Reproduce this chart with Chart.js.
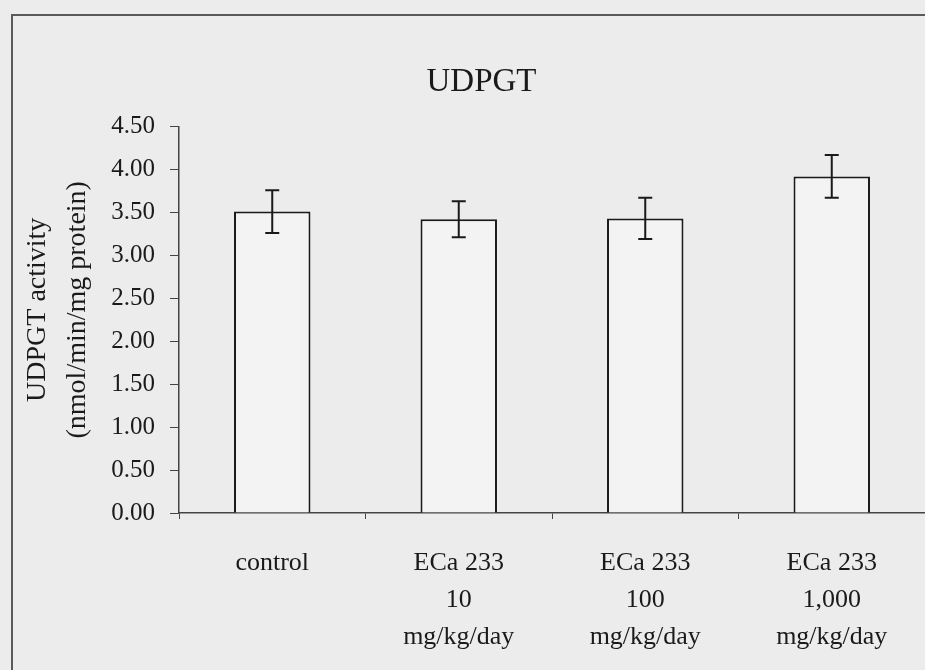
<!DOCTYPE html>
<html>
<head>
<meta charset="utf-8">
<script src="https://cdn.jsdelivr.net/npm/chart.js@4/dist/chart.umd.min.js"></script>
<style>
  html, body { margin: 0; padding: 0; width: 925px; height: 670px; overflow: hidden; background: #ececec; }
  #frame { position: absolute; left: 11px; top: 14px; width: 1000px; height: 800px; border: 2px solid #5a5a5a; box-sizing: border-box; }
  #wrap { position: absolute; left: 0; top: 0; width: 925px; height: 670px; }
</style>
</head>
<body>
<div id="frame"></div>
<div id="wrap"><canvas id="c" width="925" height="670"></canvas></div>
<script>
const categories = [
  ["control"],
  ["ECa 233", "10", "mg/kg/day"],
  ["ECa 233", "100", "mg/kg/day"],
  ["ECa 233", "1,000", "mg/kg/day"]
];
const means = [3.51, 3.42, 3.43, 3.92];
const errors = [0.25, 0.21, 0.24, 0.25];
const chartTitle = "UDPGT";
const yTitleLines = ["UDPGT activity", "(nmol/min/mg protein)"];
const yMin = 0, yMax = 4.5, yStep = 0.5;

const FONT = "'Liberation Serif', 'Times New Roman', serif";

const errorBarPlugin = {
  id: 'errorBars',
  afterDatasetsDraw(chart) {
    const ctx = chart.ctx;
    const meta = chart.getDatasetMeta(0);
    const y = chart.scales.y;
    ctx.save();
    ctx.strokeStyle = '#1a1a1a';
    ctx.lineWidth = 2;
    meta.data.forEach((bar, i) => {
      const x = bar.x;
      const top = y.getPixelForValue(means[i] + errors[i]);
      const bot = y.getPixelForValue(means[i] - errors[i]);
      ctx.beginPath();
      ctx.moveTo(x, top); ctx.lineTo(x, bot);
      ctx.moveTo(x - 7, top); ctx.lineTo(x + 7, top);
      ctx.moveTo(x - 7, bot); ctx.lineTo(x + 7, bot);
      ctx.stroke();
    });
    ctx.restore();
  }
};

const yTitlePlugin = {
  id: 'yTitle',
  afterDraw(chart) {
    const ctx = chart.ctx;
    const area = chart.chartArea;
    const cy = (area.top + area.bottom) / 2 - 10;
    const baselines = [45, 85];
    ctx.save();
    ctx.fillStyle = '#1a1a1a';
    ctx.font = "28px " + FONT;
    ctx.textAlign = 'center';
    ctx.textBaseline = 'alphabetic';
    yTitleLines.forEach((line, i) => {
      ctx.save();
      ctx.translate(baselines[i], cy);
      ctx.rotate(-Math.PI / 2);
      ctx.fillText(line, 0, 0);
      ctx.restore();
    });
    ctx.restore();
  }
};

new Chart(document.getElementById('c'), {
  type: 'bar',
  data: {
    labels: categories,
    datasets: [{
      data: means,
      backgroundColor: '#f3f3f3',
      borderColor: '#1a1a1a',
      borderWidth: 2,
      categoryPercentage: 1.0,
      barPercentage: 0.41
    }]
  },
  options: {
    responsive: false,
    animation: false,
    devicePixelRatio: 1,
    layout: { padding: { left: 38, right: 0, top: 0, bottom: 0 } },
    plugins: {
      legend: { display: false },
      tooltip: { enabled: false },
      title: {
        display: true,
        text: chartTitle,
        color: '#1a1a1a',
        font: { family: FONT, size: 33, weight: 'normal', lineHeight: 1.2 },
        padding: { top: 63, bottom: 24 }
      }
    },
    scales: {
      x: {
        afterFit(scale) { scale.height = 157; },
        border: { display: true, color: '#444', width: 1.5 },
        grid: { display: true, offset: true, drawOnChartArea: false, drawTicks: true, tickLength: 6, color: '#444' },
        ticks: {
          color: '#1a1a1a',
          padding: 26,
          font: { family: FONT, size: 26, lineHeight: 1.42 }
        }
      },
      y: {
        min: yMin,
        max: yMax,
        afterFit(scale) { scale.width = 141; },
        border: { display: true, color: '#444', width: 1.5 },
        grid: { display: true, drawOnChartArea: false, drawTicks: true, tickLength: 9, color: '#444' },
        ticks: {
          stepSize: yStep,
          color: '#1a1a1a',
          padding: 15,
          font: { family: FONT, size: 25 },
          callback: v => Number(v).toFixed(2)
        }
      }
    }
  },
  plugins: [errorBarPlugin, yTitlePlugin]
});
</script>
</body>
</html>
